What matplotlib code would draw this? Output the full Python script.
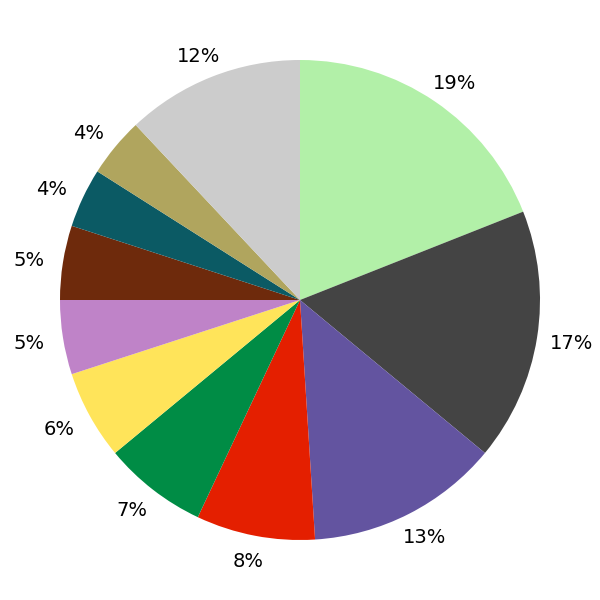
import matplotlib
matplotlib.use('Agg')
import matplotlib.pyplot as plt

# slice shares in percent, clockwise from 12 o'clock
values = [19, 17, 13, 8, 7, 6, 5, 5, 4, 4, 12]
colors = ['#b2f0a8', '#444444', '#6354a0', '#e41f00', '#008c45', '#ffe45a',
          '#bf83c8', '#6e2a0c', '#0b5a64', '#b0a55e', '#cccccc']

fig = plt.figure(figsize=(6, 6), dpi=100)
ax = fig.add_axes([0.1, 0.1, 0.8, 0.8])

wedges, texts = ax.pie(values, colors=colors, startangle=90, counterclock=False,
                       labels=['%d%%' % v for v in values], labeldistance=1.10,
                       textprops={'fontsize': 14})
# labels sit a little further out sideways than vertically
for t in texts:
    x, y = t.get_position()
    t.set_position((x * 1.04, y))
    t.set_horizontalalignment('center')
    t.set_verticalalignment('center_baseline')
ax.set_xlim(-1, 1)
ax.set_ylim(-1, 1)
ax.set_aspect('equal')

fig.savefig('out.png', dpi=100)
